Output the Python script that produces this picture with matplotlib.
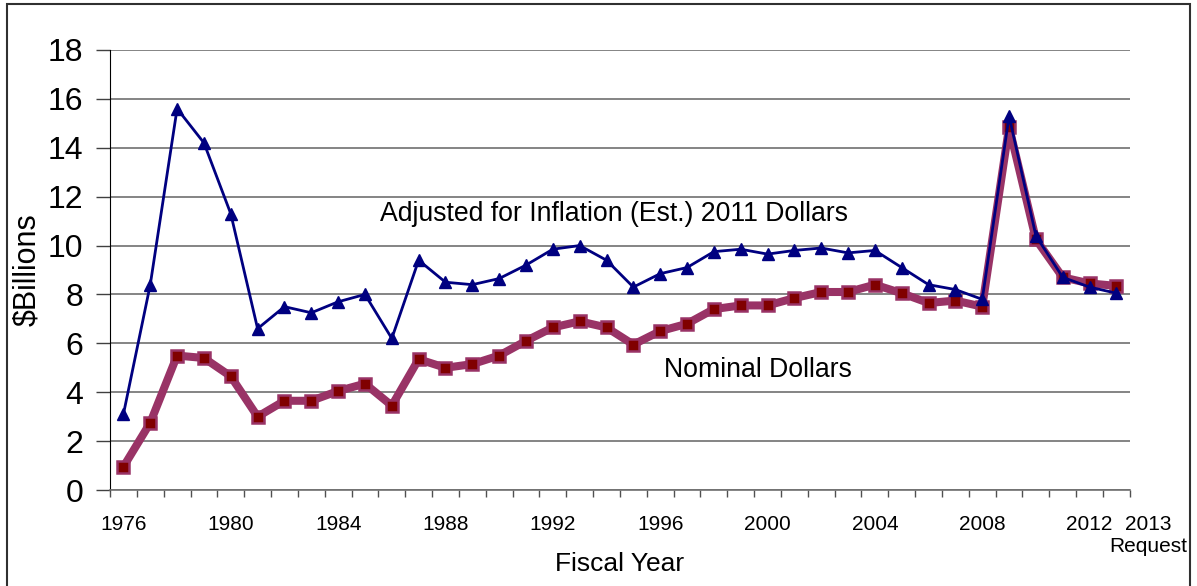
import matplotlib.pyplot as plt
import numpy as np
from matplotlib.patches import Rectangle

plt.rcParams['font.family'] = ['Liberation Sans', 'DejaVu Sans']

years = list(range(1976, 2014))
adjusted = [3.1, 8.4, 15.6, 14.2, 11.3, 6.6, 7.5, 7.25, 7.7, 8.0,
            6.2, 9.4, 8.5, 8.4, 8.65, 9.2, 9.85, 10.0, 9.4, 8.3,
            8.85, 9.1, 9.75, 9.85, 9.65, 9.8, 9.9, 9.7, 9.8, 9.1,
            8.4, 8.2, 7.8, 15.3, 10.4, 8.7, 8.3, 8.05]
nominal = [0.95, 2.75, 5.5, 5.4, 4.65, 3.0, 3.65, 3.65, 4.05, 4.35,
           3.45, 5.35, 5.0, 5.15, 5.5, 6.1, 6.65, 6.9, 6.65, 5.95,
           6.5, 6.8, 7.4, 7.55, 7.55, 7.85, 8.1, 8.1, 8.4, 8.05,
           7.65, 7.75, 7.5, 14.85, 10.25, 8.7, 8.45, 8.35]
label_years = list(range(1976, 2013, 4))
y_ticks = list(range(0, 19, 2))

fig = plt.figure(figsize=(11.97, 5.86), dpi=100)
ax = fig.add_axes([0.0919, 0.1638, 0.852, 0.7509])

ax.plot(years, nominal, color='#993366', lw=5.8, marker='s', ms=8,
        mfc='#800000', mec='#993366', mew=1.8, zorder=3, solid_joinstyle='round')
ax.plot(years, adjusted, color='#000080', lw=2, marker='^', ms=8.5,
        mfc='#000080', mec='#000080', zorder=4)

ax.set_xlim(1975.5, 2013.5)
ax.set_ylim(0, 18)
ax.set_yticks(y_ticks)
ax.yaxis.grid(True, color='#707070', lw=1.2)
ax.set_axisbelow(True)

ax.set_xticks(label_years)
ax.set_xticklabels([str(y) for y in label_years], fontsize=15)
ax.set_xticks(np.arange(1975.5, 2014, 1), minor=True)
ax.tick_params(axis='x', which='major', length=0, pad=18)
ax.tick_params(axis='x', which='minor', length=5, width=1, color='#505050', direction='out')
ax.tick_params(axis='y', length=10, width=1, color='#404040', pad=9, labelsize=23)

ax.text(2014.2, -1.03, '2013\nRequest', ha='center', va='top', fontsize=15,
        linespacing=1.2, clip_on=False)

for side in ['top', 'right']:
    ax.spines[side].set_visible(False)
ax.spines['left'].set_color('black')
ax.spines['bottom'].set_color('#707070')
ax.spines['bottom'].set_linewidth(1.2)

ax.set_ylabel('$Billions', fontsize=22)
ax.yaxis.set_label_coords(-0.066, 0.5)
ax.set_xlabel('Fiscal Year', fontsize=19)
ax.xaxis.set_label_coords(0.5, -0.14)

ax.text(1985.57, 11.3, 'Adjusted for Inflation (Est.) 2011 Dollars', fontsize=19.2,
        ha='left', va='center')
ax.text(1996.13, 4.9, 'Nominal Dollars', fontsize=19.2, ha='left', va='center')

fig.patches.append(Rectangle((7 / 1197, -0.05), 1183 / 1197, 1.05 - 4 / 586,
                             transform=fig.transFigure, fill=False,
                             edgecolor='#303030', lw=1.5))

fig.savefig('out.png', dpi=100)
